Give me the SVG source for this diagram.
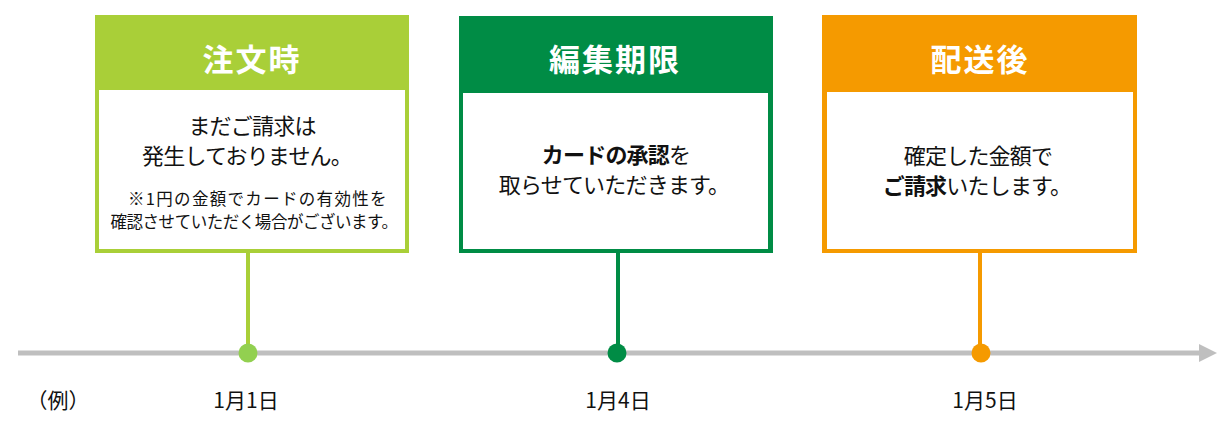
<svg xmlns="http://www.w3.org/2000/svg" width="1232" height="430" viewBox="0 0 1232 430">
<style>
text{font-family:"Noto Sans CJK JP","Noto Sans",sans-serif;fill:#111;}
.hd{font-size:31px;font-weight:bold;fill:#fff;text-anchor:middle;letter-spacing:2px;}
.bd{font-size:22px;text-anchor:middle;letter-spacing:-0.8px;}
.sm{font-size:16.5px;text-anchor:middle;letter-spacing:-0.5px;}
.dt{font-size:21px;text-anchor:middle;}
.b{font-weight:bold;}
</style>
<defs>
<marker id="ah" markerUnits="userSpaceOnUse" markerWidth="20" markerHeight="20" refX="0" refY="9" orient="auto">
<path d="M0,0 L18,9 L0,18 Z" fill="#BFBFBF"/>
</marker>
</defs>
<g id="connectors">
<line x1="18" y1="353" x2="1199" y2="353" stroke="#BFBFBF" stroke-width="5" marker-end="url(#ah)"/>
<line x1="248" y1="251" x2="248" y2="353" stroke="#A9CF38" stroke-width="4"/>
<line x1="618" y1="251" x2="618" y2="353" stroke="#008C45" stroke-width="4"/>
<line x1="980" y1="251" x2="980" y2="353" stroke="#F59A00" stroke-width="4"/>
<circle cx="248" cy="353" r="9.5" fill="#92D050"/>
<circle cx="617" cy="353" r="9.5" fill="#008C45"/>
<circle cx="981" cy="353" r="9.5" fill="#F59A00"/>
</g>
<g id="node-order">
<rect x="95" y="15" width="314" height="238" fill="#A9CF38"/>
<rect x="99" y="90" width="306" height="159" fill="#fff"/>
<text class="hd" x="252" y="71">注文時</text>
<text class="bd" x="252" y="134">まだご請求は</text>
<text class="bd" x="247" y="164">発生しておりません。</text>
<text class="sm" x="257" y="205" textLength="258" lengthAdjust="spacing">※1円の金額でカードの有効性を</text>
<text class="sm" x="254" y="228" textLength="287" lengthAdjust="spacing">確認させていただく場合がございます。</text>
</g>
<g id="node-deadline">
<rect x="459" y="16" width="314" height="237" fill="#008C45"/>
<rect x="463" y="93" width="305" height="156" fill="#fff"/>
<text class="hd" x="615" y="71">編集期限</text>
<text class="bd" x="616" y="163"><tspan class="b">カードの承認</tspan>を</text>
<text class="bd" x="614" y="193">取らせていただきます。</text>
</g>
<g id="node-shipped">
<rect x="822" y="15" width="315" height="238" fill="#F59A00"/>
<rect x="827" y="92" width="306" height="157" fill="#fff"/>
<text class="hd" x="980" y="71">配送後</text>
<text class="bd" x="978" y="164">確定した金額で</text>
<text class="bd" x="977" y="194"><tspan class="b">ご請求</tspan>いたします。</text>
</g>
<g id="labels">
<text class="dt" x="58" y="408">（例）</text>
<text class="dt" x="246" y="408">1月1日</text>
<text class="dt" x="618" y="408">1月4日</text>
<text class="dt" x="985" y="408">1月5日</text>
</g>
</svg>
